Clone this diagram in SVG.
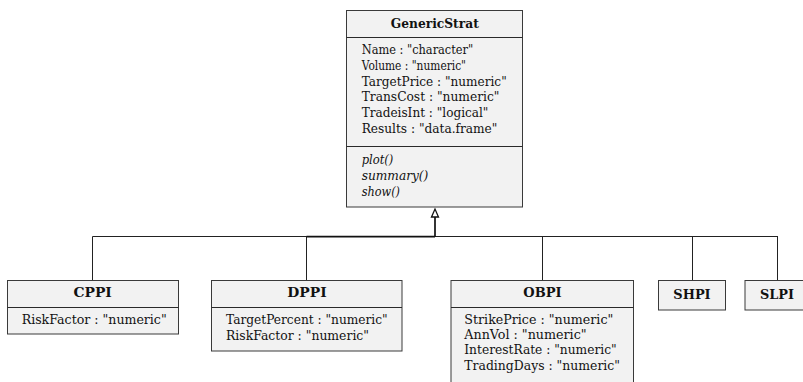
<svg xmlns="http://www.w3.org/2000/svg" width="803" height="382" viewBox="0 0 803 382">
<style>
.box{fill:#f2f2f2;stroke:#3a3a3a;stroke-width:1}
.div{stroke:#2a2a2a;stroke-width:1}
.hd{font-family:'DejaVu Serif',serif;font-weight:bold;font-size:12px;fill:#111;text-anchor:middle}
.at{font-family:'DejaVu Serif',serif;font-size:12px;fill:#111}
.mt{font-family:'DejaVu Serif',serif;font-size:12px;font-style:italic;fill:#111}
.ln{fill:none;stroke:#222;stroke-width:1}
.tk{fill:none;stroke:#111;stroke-width:1.7}
</style>
<defs>
<marker id="inh" viewBox="-1 -1 10 9" refX="0" refY="3.5" markerWidth="10" markerHeight="9" orient="auto" markerUnits="userSpaceOnUse" overflow="visible">
<path d="M0,0 L8,3.5 L0,7 Z" fill="#fff" stroke="#111" stroke-width="1.3"/>
</marker>
</defs>
<rect width="803" height="382" fill="#fff"/>
<g id="connectors">
<path class="ln" d="M92.5,236.5 H778"/>
<path class="ln" d="M92.5,280.5 V236.5"/>
<path class="ln" d="M306.5,280.5 V236.5"/>
<path class="ln" d="M542.5,280.5 V236.5"/>
<path class="ln" d="M692.5,280.5 V236.5"/>
<path class="ln" d="M777.5,280.5 V236.5"/>
<path class="tk" d="M306.5,236.6 H435"/>
<path class="tk" d="M435,237 V217" marker-end="url(#inh)"/>
</g>
<g id="GenericStrat">
<rect class="box" x="346.5" y="10.5" width="176" height="196.5"/>
<line class="div" x1="346.5" y1="37.5" x2="522.5" y2="37.5"/>
<line class="div" x1="346.5" y1="146.5" x2="522.5" y2="146.5"/>
<text class="hd" x="434.8" y="27.5" textLength="88" lengthAdjust="spacingAndGlyphs">GenericStrat</text>
<text class="at" x="361.7" y="54.3" textLength="111.5" lengthAdjust="spacingAndGlyphs">Name : "character"</text>
<text class="at" x="361.7" y="70" textLength="104.3" lengthAdjust="spacingAndGlyphs">Volume : "numeric"</text>
<text class="at" x="361.7" y="85.6" textLength="145" lengthAdjust="spacingAndGlyphs">TargetPrice : "numeric"</text>
<text class="at" x="361.7" y="101.3" textLength="137.7" lengthAdjust="spacingAndGlyphs">TransCost : "numeric"</text>
<text class="at" x="361.7" y="117" textLength="126.7" lengthAdjust="spacingAndGlyphs">TradeisInt : "logical"</text>
<text class="at" x="361.7" y="132.6" textLength="135.7" lengthAdjust="spacingAndGlyphs">Results : "data.frame"</text>
<text class="mt" x="361.7" y="164.2" textLength="31.7" lengthAdjust="spacingAndGlyphs">plot()</text>
<text class="mt" x="361.7" y="179.9" textLength="66.7" lengthAdjust="spacingAndGlyphs">summary()</text>
<text class="mt" x="361.7" y="195.5" textLength="38.3" lengthAdjust="spacingAndGlyphs">show()</text>
</g>
<g id="CPPI">
<rect class="box" x="7.5" y="280.5" width="171" height="53.5"/>
<line class="div" x1="7.5" y1="307.5" x2="178.5" y2="307.5"/>
<text class="hd" x="92.7" y="297" textLength="38.3" lengthAdjust="spacingAndGlyphs">CPPI</text>
<text class="at" x="21.7" y="323.5" textLength="145" lengthAdjust="spacingAndGlyphs">RiskFactor : "numeric"</text>
</g>
<g id="DPPI">
<rect class="box" x="211.5" y="280.5" width="190.5" height="70.5"/>
<line class="div" x1="211.5" y1="307.5" x2="402" y2="307.5"/>
<text class="hd" x="307" y="297" textLength="39.3" lengthAdjust="spacingAndGlyphs">DPPI</text>
<text class="at" x="226" y="323.5" textLength="161.7" lengthAdjust="spacingAndGlyphs">TargetPercent : "numeric"</text>
<text class="at" x="226" y="339.5" textLength="143" lengthAdjust="spacingAndGlyphs">RiskFactor : "numeric"</text>
</g>
<g id="OBPI">
<rect class="box" x="451" y="280.5" width="182.5" height="110"/>
<line class="div" x1="451" y1="307.5" x2="633.5" y2="307.5"/>
<text class="hd" x="542.5" y="297" textLength="38.3" lengthAdjust="spacingAndGlyphs">OBPI</text>
<text class="at" x="464.3" y="323.5" textLength="149" lengthAdjust="spacingAndGlyphs">StrikePrice : "numeric"</text>
<text class="at" x="464.3" y="338.9" textLength="122.3" lengthAdjust="spacingAndGlyphs">AnnVol : "numeric"</text>
<text class="at" x="464.3" y="354.2" textLength="152.3" lengthAdjust="spacingAndGlyphs">InterestRate : "numeric"</text>
<text class="at" x="464.3" y="369.6" textLength="155.7" lengthAdjust="spacingAndGlyphs">TradingDays : "numeric"</text>
</g>
<g id="SHPI">
<rect class="box" x="658.5" y="280.5" width="67" height="29.5"/>
<text class="hd" x="692" y="298.5" textLength="37.3" lengthAdjust="spacingAndGlyphs">SHPI</text>
</g>
<g id="SLPI">
<rect class="box" x="745" y="280.5" width="65" height="29.5"/>
<text class="hd" x="777" y="298.5" textLength="34" lengthAdjust="spacingAndGlyphs">SLPI</text>
</g>
</svg>
